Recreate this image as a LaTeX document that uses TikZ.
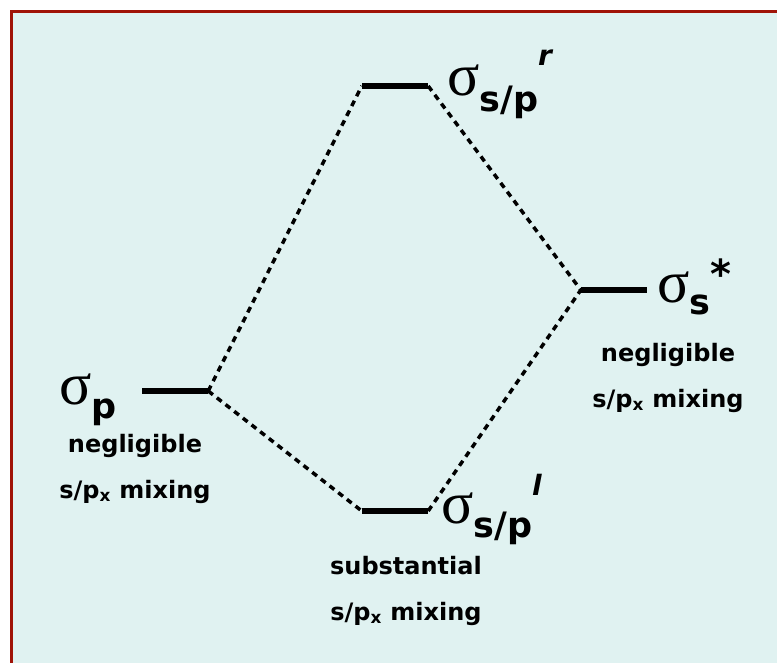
\documentclass[tikz,border=0pt]{standalone}
\usepackage{fontspec}
\newfontfamily\lblfont{DejaVu Sans}
\newfontfamily\sigfont{Liberation Serif}
\usetikzlibrary{positioning}
\definecolor{panelbg}{HTML}{E0F2F1}
\definecolor{framered}{HTML}{A01408}

\newcommand{\sig}{{\sigfont\mdseries\fontsize{60}{60}\selectfont σ}}
\newcommand{\lowsub}[2]{\raisebox{-#1}{\fontsize{35}{35}\selectfont #2}}
\newcommand{\highsup}[2]{\raisebox{#1}{\fontsize{28}{28}\selectfont\itshape #2}}

\begin{document}
\begin{tikzpicture}[
    x=1pt, y=-1pt,
    level/.style={rectangle, fill=black, inner sep=0pt, minimum width=66pt, minimum height=6pt},
    mix/.style={dash pattern=on 6pt off 5pt, line width=3.5pt},
    lbl/.style={anchor=base west, inner sep=0pt, font=\lblfont\bfseries},
    note/.style={align=center, inner sep=0pt, font=\lblfont\bfseries\fontsize{24}{46}\selectfont}
]
    \useasboundingbox (0,0) rectangle (777,663);
    % Panel
    \draw[framered, line width=3pt, fill=panelbg] (11.5,12) rectangle (800,690);

    % Energy levels
    \node[level] (sr) at (395,86) {};
    \node[level] (ss) at (614,290) {};
    \node[level] (sp) at (175,391) {};
    \node[level] (sl) at (395,511) {};

    % Correlation lines
    \draw[mix] (sp.east) -- (sr.west);
    \draw[mix] (sp.east) -- (sl.west);
    \draw[mix] (sr.east) -- (ss.west);
    \draw[mix] (sl.east) -- (ss.west);

    % Level labels
    \node[lbl] (srlab) at (447,96) {\sig\lowsub{16pt}{s/p}\highsup{30pt}{r}};
    \node[lbl] (sslab) at (657,303) {\sig\lowsub{12pt}{s}\raisebox{14pt}{\fontsize{40}{40}\selectfont *}};
    \node[lbl] (splab) at (59,404) {\sig\lowsub{14pt}{p}};
    \node[lbl] (sllab) at (441,523) {\sig\lowsub{14pt}{s/p}\highsup{28pt}{l}};

    % Mixing notes
    \node[note, anchor=base] (spnote) at (135,498) {negligible\\s/p\textsubscript{x} mixing};
    \node[note, anchor=base] (ssnote) at (668,407) {negligible\\s/p\textsubscript{x} mixing};
    \node[note, anchor=base] (slnote) at (406,620) {substantial\\s/p\textsubscript{x} mixing};
\end{tikzpicture}
\end{document}
